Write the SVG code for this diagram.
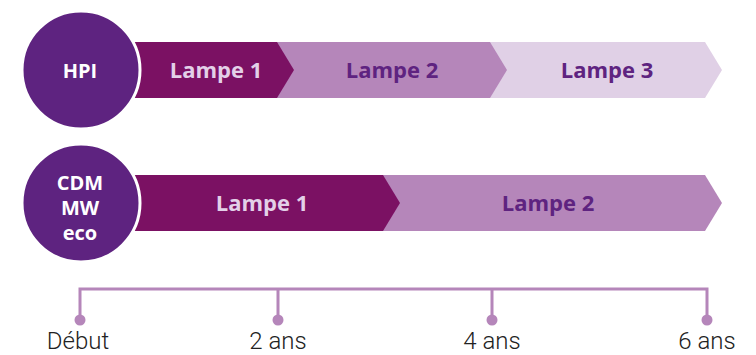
<svg xmlns="http://www.w3.org/2000/svg" width="756" height="355" viewBox="0 0 756 355">
<style>
.lbl{font-family:"Open Sans","Liberation Sans",sans-serif;font-weight:700;font-size:22px;text-anchor:middle}
.light{fill:#E3D0E8}
.dark{fill:#5E2380}
.circ{fill:#5E2380;stroke:#ffffff;stroke-width:3}
.ctext{font-family:"Open Sans","Liberation Sans",sans-serif;font-weight:700;font-size:20px;fill:#ffffff;text-anchor:middle}
.axis{fill:none;stroke:#B586BA;stroke-width:3}
.dot{fill:#B586BA}
.tick{font-family:"Roboto","Liberation Sans",sans-serif;font-weight:300;font-size:24px;fill:#222;text-anchor:middle}
</style>
<g id="row-hpi">
<g id="hpi-lampe3"><polygon points="490,42 705,42 722,70 705,98 490,98" fill="#E0D0E6"/><text class="lbl dark" x="607" y="78">Lampe 3</text></g>
<g id="hpi-lampe2"><polygon points="277,42 490,42 507,70 490,98 277,98" fill="#B586BA"/><text class="lbl dark" x="392" y="78">Lampe 2</text></g>
<g id="hpi-lampe1"><polygon points="130,42 277,42 294,70 277,98 130,98" fill="#7B1163"/><text class="lbl light" x="216" y="78">Lampe 1</text></g>
<g id="hpi"><circle class="circ" cx="81" cy="70" r="59"/><text class="ctext" x="80" y="78">HPI</text></g>
</g>
<g id="row-cdm">
<g id="cdm-lampe2"><polygon points="383,175 705,175 722,203 705,231 383,231" fill="#B586BA"/><text class="lbl dark" x="548" y="211">Lampe 2</text></g>
<g id="cdm-lampe1"><polygon points="130,175 383,175 400,203 383,231 130,231" fill="#7B1163"/><text class="lbl light" x="262" y="211">Lampe 1</text></g>
<g id="cdm"><circle class="circ" cx="81" cy="203" r="59"/><text class="ctext" x="80" y="190">CDM</text><text class="ctext" x="80" y="215">MW</text><text class="ctext" x="80" y="240">eco</text></g>
</g>
<g id="connectors">
<path class="axis" d="M80,320 V289 H707 V320 M278,289 V320 M492,289 V320"/>
<circle class="dot" cx="80" cy="320" r="5.5"/>
<circle class="dot" cx="278" cy="320" r="5.5"/>
<circle class="dot" cx="492" cy="320" r="5.5"/>
<circle class="dot" cx="707" cy="320" r="5.5"/>
</g>
<g id="labels">
<text class="tick" x="78" y="349">Début</text>
<text class="tick" x="278" y="349">2 ans</text>
<text class="tick" x="492" y="349">4 ans</text>
<text class="tick" x="707" y="349">6 ans</text>
</g>
</svg>
